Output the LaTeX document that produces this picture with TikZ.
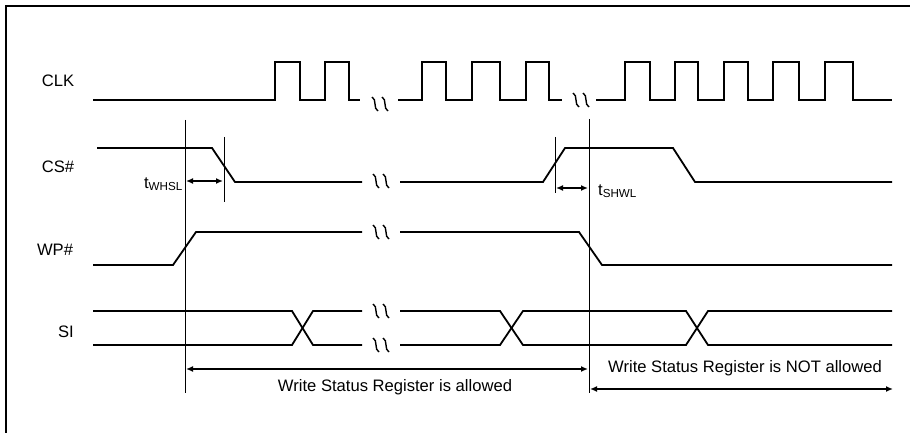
\documentclass[tikz,border=0pt]{standalone}
\usepackage{fontspec}
\setmainfont{Liberation Sans}
\usepackage{tikz}
\usetikzlibrary{arrows.meta}

\tikzset{
  sig/.style={line width=1.8pt, line join=miter},
  vline/.style={line width=0.9pt},
  brk/.style={line width=1.4pt},
  dim/.style={line width=1.6pt, {Latex[length=7pt,width=6pt]}-{Latex[length=7pt,width=6pt]}},
  lbl/.style={font=\fontsize{16.6pt}{20pt}\selectfont, inner sep=0pt}
}

% two wavy strokes where a signal is cut
\newcommand{\wavebreak}[2]{
  \draw[brk] (#1-8,#2-7) .. controls (#1-3,#2-5) and (#1-7,#2+5) .. (#1-2,#2+7);
  \draw[brk] (#1+2,#2-7) .. controls (#1+7,#2-5) and (#1+3,#2+5) .. (#1+8,#2+7);
}

\begin{document}
\begin{tikzpicture}[x=1pt, y=-1pt]

\useasboundingbox (0,0) rectangle (910,433);

% frame
\draw[line width=2pt] (6,433)--(6,6)--(910,6);

% labels
\node[lbl] (clk) at (58,81) {CLK};
\node[lbl] (cs) at (58,167) {CS\#};
\node[lbl] (wp) at (55,250) {WP\#};
\node[lbl] (si) at (66,332) {SI};

% CLK
\draw[sig] (93,100) -| (275,62) -| (300,100) -| (325,62) -| (349,100) -- (360,100);
\draw[sig] (398,100)
  \foreach \r/\f in {422/446, 472/500, 526/549}{ -| (\r,62) -| (\f,100) } -- (562,100);
\draw[sig] (596,100)
  \foreach \r/\f in {625/650, 675/698, 724/748, 773/799, 825/853}{ -| (\r,62) -| (\f,100) } -- (892,100);
\wavebreak{380}{104}
\wavebreak{581}{100}

% CS#
\draw[sig] (97,148)--(212,148)--(235,182)--(362,182);
\draw[sig] (400,182)--(543,182)--(565,148)--(673,148)--(695,182)--(892,182);
\wavebreak{381}{181}

% WP#
\draw[sig] (93,265)--(173,265)--(196,232)--(362,232);
\draw[sig] (400,232)--(579,232)--(602,265)--(892,265);
\wavebreak{381}{232}

% SI
\draw[sig] (93,311)--(292,311)--(313,345)--(362,345);
\draw[sig] (93,345)--(292,345)--(313,311)--(362,311);
\draw[sig] (400,311)--(500,311)--(523,345)--(686,345)--(708,311)--(892,311);
\draw[sig] (400,345)--(500,345)--(523,311)--(686,311)--(708,345)--(892,345);
\wavebreak{381}{311}
\wavebreak{381}{345}

% timing marks
\coordinate (v1t) at (185,120);
\coordinate (v1b) at (185,393);
\coordinate (v2t) at (224,137);
\coordinate (v2b) at (224,202);
\coordinate (v3t) at (555,137);
\coordinate (v3b) at (555,193);
\coordinate (v4t) at (589,119);
\coordinate (v4b) at (589,393);
\draw[vline] (v1t)--(v1b);
\draw[vline] (v2t)--(v2b);
\draw[vline] (v3t)--(v3b);
\draw[vline] (v4t)--(v4b);

\coordinate (whsla) at (186,181);
\coordinate (whslb) at (223,181);
\draw[dim] (whsla)--(whslb);
\node[lbl, anchor=east] (twhsl) at (183,184) {t\textsubscript{WHSL}};

\coordinate (shwla) at (556,188);
\coordinate (shwlb) at (588,188);
\draw[dim] (shwla)--(shwlb);
\node[lbl, anchor=west] (tshwl) at (598,191) {t\textsubscript{SHWL}};

% allowed / not allowed
\coordinate (oka) at (186,369);
\coordinate (okb) at (588,369);
\draw[dim] (oka)--(okb);
\node[lbl] (ok) at (395,387) {Write Status Register is allowed};

\coordinate (nota) at (590,389);
\coordinate (notb) at (893,389);
\draw[dim] (nota)--(notb);
\node[lbl] (notok) at (745,368) {Write Status Register is NOT allowed};

\end{tikzpicture}
\end{document}
